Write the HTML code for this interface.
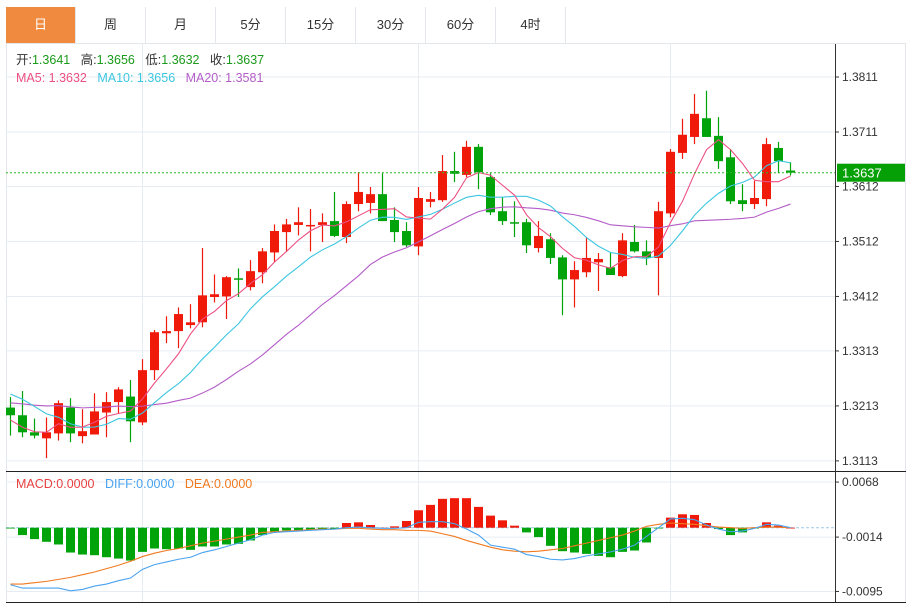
<!DOCTYPE html>
<html><head><meta charset="utf-8"><style>
html,body{margin:0;padding:0;background:#fff;width:910px;height:605px;overflow:hidden;font-family:"Liberation Sans","Noto Sans CJK SC",sans-serif;}
.tabs{position:absolute;left:6px;top:7px;height:36px;display:flex;border-bottom:1px solid #e3e7ec;width:900px;}
.tab{width:69px;height:36px;line-height:36px;text-align:center;font-size:13px;color:#333;border-right:1px solid #e3e7ec;}
.tab.on{background:#f08a3e;color:#fff;}
svg{position:absolute;left:0;top:0}
</style></head><body>
<div class="tabs">
<div class="tab on">日</div>
<div class="tab">周</div>
<div class="tab">月</div>
<div class="tab">5分</div>
<div class="tab">15分</div>
<div class="tab">30分</div>
<div class="tab">60分</div>
<div class="tab">4时</div>
</div>
<svg id="c" width="910" height="605"></svg>
<script>
const opens=[1.3210,1.3196,1.3165,1.3154,1.3163,1.3210,1.3158,1.3161,1.3201,1.3220,1.3230,1.3183,1.3278,1.3345,1.3349,1.3360,1.3365,1.3411,1.3412,1.3445,1.3429,1.3456,1.3492,1.3529,1.3542,1.3540,1.3542,1.3549,1.3520,1.3580,1.3582,1.3598,1.3551,1.3531,1.3503,1.3584,1.3587,1.3640,1.3633,1.3684,1.3629,1.3567,1.3547,1.3547,1.3500,1.3516,1.3483,1.3443,1.3456,1.3474,1.3465,1.3449,1.3511,1.3494,1.3482,1.3563,1.3673,1.3702,1.3736,1.3704,1.3665,1.3587,1.3580,1.3589,1.3682,1.3641];
const closes=[1.3196,1.3165,1.3159,1.3165,1.3218,1.3163,1.3167,1.3203,1.3220,1.3243,1.3185,1.3278,1.3347,1.3349,1.3380,1.3365,1.3414,1.3416,1.3447,1.3443,1.3458,1.3494,1.3531,1.3543,1.3547,1.3542,1.3547,1.3522,1.3580,1.3602,1.3598,1.3549,1.3529,1.3505,1.3591,1.3589,1.3640,1.3635,1.3684,1.3638,1.3565,1.3549,1.3545,1.3505,1.3522,1.3482,1.3443,1.3460,1.3482,1.3480,1.3451,1.3514,1.3494,1.3483,1.3567,1.3675,1.3706,1.3744,1.3702,1.3658,1.3585,1.3580,1.3591,1.3689,1.3658,1.3637];
const highs=[1.3229,1.3240,1.3190,1.3192,1.3223,1.3227,1.3207,1.3236,1.3238,1.3247,1.3260,1.3298,1.3351,1.3376,1.3392,1.3398,1.3500,1.3452,1.3449,1.3463,1.3478,1.3500,1.3543,1.3553,1.3574,1.3571,1.3563,1.3602,1.3585,1.3638,1.3611,1.3636,1.3574,1.3547,1.3611,1.3602,1.3669,1.3675,1.3695,1.3689,1.3636,1.3593,1.3585,1.3553,1.3549,1.3527,1.3487,1.3476,1.3520,1.3491,1.3491,1.3527,1.3542,1.3514,1.3584,1.3680,1.3735,1.3780,1.3786,1.3738,1.3680,1.3616,1.3622,1.3700,1.3693,1.3656];
const lows=[1.3159,1.3156,1.3154,1.3118,1.3150,1.3147,1.3145,1.3161,1.3156,1.3200,1.3147,1.3178,1.3260,1.3327,1.3318,1.3354,1.3356,1.3401,1.3371,1.3411,1.3423,1.3436,1.3474,1.3494,1.3523,1.3494,1.3511,1.3520,1.3509,1.3567,1.3563,1.3549,1.3511,1.3502,1.3487,1.3574,1.3584,1.3620,1.3629,1.3607,1.3560,1.3542,1.3520,1.3491,1.3492,1.3471,1.3378,1.3392,1.3447,1.3422,1.3451,1.3447,1.3492,1.3469,1.3414,1.3556,1.3662,1.3689,1.3702,1.3644,1.3580,1.3567,1.3571,1.3576,1.3636,1.3632];
const priorCloses=[1.3195,1.3210,1.3190,1.3205,1.3215,1.3200,1.3185,1.3210,1.3205,1.3205,1.3260,1.3290,1.3300,1.3280,1.3280,1.3230,1.3200,1.3170,1.3140];
const macdHist=[-0.0001,-0.0011,-0.0017,-0.0021,-0.0025,-0.0037,-0.0040,-0.0041,-0.0044,-0.0046,-0.0049,-0.0036,-0.0031,-0.0032,-0.0031,-0.0033,-0.0028,-0.0028,-0.0025,-0.0024,-0.0019,-0.0011,-0.0006,-0.0004,-0.0004,-0.0004,-0.0003,-0.0002,0.0007,0.0008,0.0004,0.0000,0.0002,0.0010,0.0026,0.0034,0.0043,0.0044,0.0044,0.0031,0.0018,0.0011,0.0003,-0.0007,-0.0014,-0.0027,-0.0035,-0.0037,-0.0039,-0.0042,-0.0044,-0.0036,-0.0034,-0.0022,-0.0001,0.0015,0.0020,0.0019,0.0007,-0.0002,-0.0011,-0.0007,-0.0001,0.0008,0.0003,0.0000];
const diffVals=[-0.0085,-0.0090,-0.0090,-0.0090,-0.0090,-0.0094,-0.0092,-0.0087,-0.0084,-0.0079,-0.0075,-0.0062,-0.0055,-0.0051,-0.0047,-0.0044,-0.0037,-0.0033,-0.0028,-0.0023,-0.0018,-0.0011,-0.0007,-0.0006,-0.0005,-0.0004,-0.0003,-0.0002,0.0000,0.0001,0.0000,-0.0001,-0.0001,0.0000,0.0008,0.0009,0.0009,0.0006,-0.0002,-0.0011,-0.0026,-0.0029,-0.0032,-0.0040,-0.0043,-0.0047,-0.0048,-0.0046,-0.0042,-0.0039,-0.0036,-0.0032,-0.0026,-0.0013,0.0000,0.0013,0.0014,0.0012,0.0004,-0.0002,-0.0006,-0.0005,-0.0001,0.0005,0.0004,0.0000];
const deaVals=[-0.0084,-0.0084,-0.0082,-0.0080,-0.0077,-0.0074,-0.0070,-0.0066,-0.0061,-0.0056,-0.0050,-0.0043,-0.0038,-0.0034,-0.0031,-0.0027,-0.0023,-0.0020,-0.0017,-0.0014,-0.0011,-0.0007,-0.0006,-0.0005,-0.0004,-0.0003,-0.0002,-0.0002,-0.0001,-0.0001,-0.0002,-0.0003,-0.0003,-0.0004,-0.0004,-0.0005,-0.0009,-0.0013,-0.0019,-0.0024,-0.0029,-0.0033,-0.0035,-0.0036,-0.0035,-0.0033,-0.0031,-0.0027,-0.0023,-0.0019,-0.0015,-0.0011,-0.0005,0.0002,0.0005,0.0007,0.0006,0.0005,0.0003,0.0001,0.0000,-0.0001,0.0000,0.0001,0.0001,0.0000];
const priceTicks=[1.3811,1.3711,1.3612,1.3512,1.3412,1.3313,1.3213,1.3113];
const macdTicks=[0.0068,-0.0014,-0.0095];
const lastPrice=1.3637;

const NS="http://www.w3.org/2000/svg";
const svg=document.getElementById('c');
function xc(i){return 10.5+12*i;}
function yP(p){return 77+(1.3811-p)*5500;}
function yM(v){return 527.7-v/0.000149;}
function el(tag,attrs,parent){const e=document.createElementNS(NS,tag);for(const k in attrs)e.setAttribute(k,attrs[k]);(parent||svg).appendChild(e);return e;}

// frames
let f=el('rect',{x:6.5,y:43.5,width:899,height:559,fill:'none',stroke:'#e3e7ec'});


// grid
priceTicks.forEach(t=>{const g=el('line',{x1:6,x2:835,y1:yP(t),y2:yP(t),stroke:'#e6ecf2'});

});
macdTicks.forEach(t=>{const g=el('line',{x1:6,x2:835,y1:yM(t),y2:yM(t),stroke:'#e6ecf2'});

});
[11,34,55].forEach(i=>{const g=el('line',{x1:xc(i),x2:xc(i),y1:44,y2:602,stroke:'#e6ecf2'});

});
// panel separators
let s1=el('line',{x1:6,x2:906,y1:471.5,y2:471.5,stroke:'#222'});


let s2=el('line',{x1:6,x2:906,y1:602.5,y2:602.5,stroke:'#222'});


let ax=el('line',{x1:835.5,x2:835.5,y1:44,y2:602,stroke:'#333'});


// price ticks
priceTicks.forEach(t=>{el('line',{x1:835,x2:839,y1:yP(t),y2:yP(t),stroke:'#333'});
const tx=el('text',{x:842,y:yP(t)+4,'font-size':12,fill:'#333'});tx.textContent=t.toFixed(4);

});
macdTicks.forEach(t=>{el('line',{x1:835,x2:839,y1:yM(t),y2:yM(t),stroke:'#333'});
const tx=el('text',{x:842,y:yM(t)+4,'font-size':12,fill:'#333'});tx.textContent=(t<0?'-':'')+Math.abs(t).toFixed(4);

});
// zero line macd
let z=el('line',{x1:6,x2:835,y1:yM(0),y2:yM(0),stroke:'#9cc8e8','stroke-dasharray':'3,2'});


// candles
for(let i=0;i<opens.length;i++){
 const up=closes[i]>=opens[i];const col=up?'#f01a0a':'#00a30a';
 const g=el('g',{});
 
 
 el('line',{x1:xc(i),x2:xc(i),y1:yP(highs[i]),y2:yP(lows[i]),stroke:col,'stroke-width':1.2},g);
 const t=yP(Math.max(opens[i],closes[i])),b=yP(Math.min(opens[i],closes[i]));
 el('rect',{x:xc(i)-4.5,y:t,width:9,height:Math.max(1.5,b-t),fill:col},g);
}
// MAs
const all=priorCloses.concat(closes);
function ma(n){const out=[];for(let i=0;i<closes.length;i++){let s=0;const k=i+priorCloses.length;for(let j=k-n+1;j<=k;j++)s+=all[j];out.push(s/n);}return out;}
function line(vals,fy,col,name){const p=el('polyline',{points:vals.map((v,i)=>xc(i)+','+fy(v)).join(' '),fill:'none',stroke:col,'stroke-width':1.1});

}
line(ma(20),yP,'#b45cc8','ma20-line');
line(ma(10),yP,'#3cc6e0','ma10-line');
line(ma(5),yP,'#ec4f82','ma5-line');
// last price
let lp=el('line',{x1:6,x2:835,y1:yP(lastPrice),y2:yP(lastPrice),stroke:'#2db82d','stroke-dasharray':'2,2'});


let lb=el('rect',{x:837,y:yP(lastPrice)-9,width:68,height:18,fill:'#05a005'});


let lt=el('text',{x:842,y:yP(lastPrice)+5,'font-size':13,fill:'#fff'});lt.textContent=lastPrice.toFixed(4);


// macd hist
for(let i=0;i<macdHist.length;i++){const v=macdHist[i];const y0=yM(0),y1=yM(v);
 const r=el('rect',{x:xc(i)-4.5,y:Math.min(y0,y1),width:9,height:Math.max(0.8,Math.abs(y1-y0)),fill:v>=0?'#f01a0a':'#00a30a'});
 
 }
line(deaVals,yM,'#f07a20','dea-line');
line(diffVals,yM,'#4aa3ef','diff-line');
// legends
function legend(x,y,parts,name){const t=el('text',{x:x,y:y,'font-size':12.5});


parts.forEach(p=>{const s=el('tspan',{fill:p[1]},t);s.textContent=p[0];});}
legend(16,64,[['开:','#333'],['1.3641   ','#1a9a1a'],['高:','#333'],['1.3656   ','#1a9a1a'],['低:','#333'],['1.3632   ','#1a9a1a'],['收:','#333'],['1.3637','#1a9a1a']],'ohlc-legend');
legend(16,82,[['MA5: 1.3632   ','#ec4f82'],['MA10: 1.3656   ','#3cc6e0'],['MA20: 1.3581','#b45cc8']],'ma-legend');
legend(16,488,[['MACD:0.0000   ','#e84040'],['DIFF:0.0000   ','#4aa3ef'],['DEA:0.0000','#f07a20']],'macd-legend');
document.querySelectorAll('text').forEach(t=>t.setAttribute('xml:space','preserve'));
document.querySelectorAll('text').forEach(t=>t.style.whiteSpace='pre');
</script>
</body></html>
